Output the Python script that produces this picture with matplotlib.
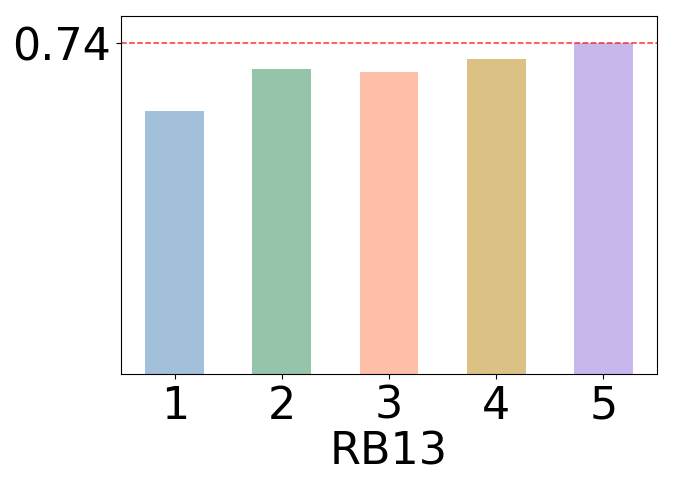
import matplotlib
matplotlib.use("Agg")
import matplotlib.pyplot as plt
import numpy as np

# values
labels = ['1', '2', '3', '4', '5']
scores = [0.588, 0.682, 0.675, 0.704, 0.740]
colors = ['steelblue', 'seagreen', 'coral', 'darkgoldenrod', 'mediumpurple']
best = 0.74

fig = plt.figure(figsize=(6.76, 4.89), dpi=100)
ax = fig.add_axes([0.179, 0.233, 0.793, 0.732])

x = np.arange(1, len(labels) + 1)
ax.bar(x, scores, width=0.55, color=colors, alpha=0.5)
ax.axhline(best, color='red', linestyle='--', linewidth=1.1, alpha=0.8)

ax.set_ylim(0, 0.8)
ax.set_yticks([best])
ax.set_yticklabels(['0.74'])
ax.set_xticks(x)
ax.set_xticklabels(labels)
ax.tick_params(labelsize=32)
ax.set_xlabel('RB13', fontsize=32, labelpad=2)

fig.savefig('out.png', dpi=100)
